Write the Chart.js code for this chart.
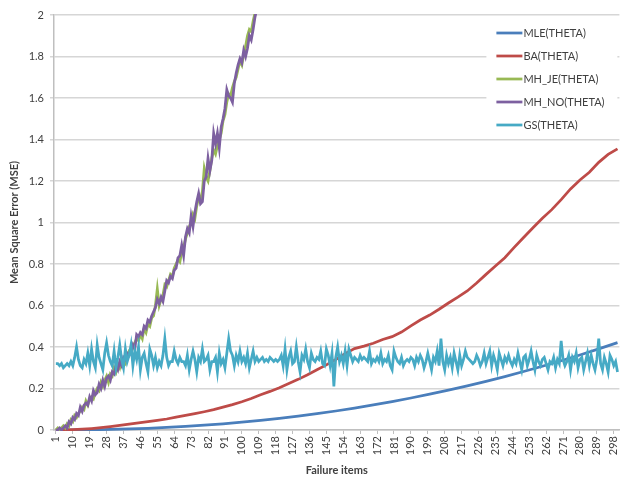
<!DOCTYPE html>
<html><head><meta charset="utf-8">
<script src="https://cdn.jsdelivr.net/npm/chart.js@4.4.0/dist/chart.umd.min.js"></script>
<style>html,body{margin:0;padding:0;background:#fff}#wrap{width:629px;height:477px;position:relative}</style>
</head><body><div id="wrap"><canvas id="c" width="629" height="477"></canvas></div>
<script>
const xTickLabels = [1,10,19,28,37,46,55,64,73,82,91,100,109,118,127,136,145,154,163,172,181,190,199,208,217,226,235,244,253,262,271,280,289,298];
const yTickLabels = [0,0.2,0.4,0.6,0.8,1,1.2,1.4,1.6,1.8,2];
const seriesNames = ['MLE(THETA)','BA(THETA)','MH_JE(THETA)','MH_NO(THETA)','GS(THETA)'];

const mleX = [1,10,20,30,40,50,60,70,80,90,100,110,120,130,140,150,160,170,180,190,200,210,220,230,240,250,260,270,280,290,300];
const mleY = [0,0.0002,0.0011,0.0027,0.005,0.0082,0.0122,0.0171,0.023,0.0298,0.0376,0.0463,0.056,0.0669,0.0787,0.0916,0.1056,0.1207,0.1368,0.1541,0.1725,0.192,0.2127,0.2347,0.2576,0.2819,0.3073,0.3338,0.3616,0.3907,0.4209];

const baX = [1,5,10,15,20,25,30,35,40,45,50,55,60,65,70,75,80,85,90,95,100,105,110,115,120,125,130,135,140,145,150,155,160,165,170,175,180,185,190,195,200,205,210,215,220,225,230,235,240,245,250,255,260,265,270,275,280,285,290,295,300];
const baY = [0,0.001,0.002,0.004,0.007,0.011,0.016,0.022,0.028,0.034,0.040,0.046,0.053,0.062,0.070,0.079,0.088,0.098,0.110,0.122,0.136,0.152,0.170,0.186,0.204,0.224,0.244,0.266,0.290,0.314,0.340,0.368,0.392,0.404,0.418,0.436,0.450,0.472,0.502,0.530,0.554,0.582,0.612,0.640,0.670,0.708,0.750,0.790,0.830,0.880,0.928,0.975,1.020,1.062,1.110,1.162,1.205,1.242,1.290,1.328,1.355];

// values for categories 1, 2, 3, ... (series leave the plot above 2)
const mhJe = [0.00,0.01,0.00,0.01,0.02,0.01,0.03,0.02,0.05,0.04,
 0.07,0.06,0.08,0.09,0.11,0.10,0.14,0.12,0.15,0.16,
 0.15,0.18,0.20,0.19,0.23,0.21,0.24,0.26,0.23,0.27,
 0.26,0.30,0.28,0.32,0.30,0.34,0.33,0.32,0.36,0.38,
 0.37,0.40,0.42,0.44,0.43,0.46,0.44,0.49,0.47,0.51,
 0.50,0.54,0.55,0.60,0.68,0.60,0.63,0.65,0.70,0.69,
 0.72,0.75,0.74,0.78,0.80,0.82,0.81,0.86,0.88,0.92,
 0.95,0.98,1.00,1.04,1.02,1.08,1.12,1.11,1.15,1.26,
 1.22,1.20,1.25,1.31,1.35,1.33,1.37,1.40,1.43,1.49,
 1.52,1.58,1.62,1.61,1.65,1.68,1.70,1.74,1.78,1.76,
 1.81,1.85,1.90,1.93,1.92,1.97,2.01,2.05,2.10,2.14];
const mhNo = [0.00,0.00,0.01,0.00,0.01,0.02,0.01,0.04,0.03,0.06,
 0.05,0.08,0.07,0.11,0.09,0.12,0.13,0.12,0.16,0.14,
 0.19,0.17,0.18,0.22,0.20,0.24,0.21,0.25,0.26,0.24,
 0.28,0.27,0.31,0.29,0.33,0.31,0.35,0.34,0.37,0.36,
 0.38,0.41,0.39,0.46,0.45,0.47,0.46,0.50,0.49,0.53,
 0.52,0.55,0.57,0.59,0.63,0.61,0.64,0.62,0.67,0.72,
 0.71,0.74,0.73,0.77,0.78,0.83,0.84,0.89,0.84,0.93,
 0.97,0.95,1.03,0.98,1.05,1.10,1.14,1.09,1.10,1.20,
 1.22,1.31,1.25,1.30,1.43,1.38,1.43,1.36,1.46,1.50,
 1.55,1.64,1.61,1.60,1.58,1.67,1.72,1.76,1.79,1.77,
 1.83,1.80,1.84,1.90,1.88,1.93,1.99,2.03,2.09,2.13];
const gs = [0.32,0.32,0.31,0.32,0.30,0.31,0.32,0.31,0.33,0.31,
 0.35,0.40,0.34,0.31,0.30,0.34,0.32,0.37,0.31,0.39,
 0.33,0.30,0.41,0.35,0.32,0.29,0.37,0.42,0.36,0.33,
 0.31,0.38,0.30,0.35,0.41,0.34,0.30,0.39,0.33,0.36,
 0.41,0.31,0.38,0.34,0.40,0.29,0.35,0.37,0.32,0.28,
 0.39,0.36,0.31,0.35,0.30,0.33,0.31,0.36,0.44,0.35,
 0.31,0.33,0.33,0.38,0.34,0.32,0.35,0.33,0.33,0.31,
 0.36,0.29,0.34,0.38,0.34,0.28,0.35,0.33,0.39,0.33,
 0.34,0.36,0.29,0.33,0.33,0.35,0.28,0.37,0.32,0.34,
 0.30,0.37,0.44,0.38,0.36,0.31,0.36,0.33,0.38,0.33,
 0.35,0.32,0.37,0.30,0.34,0.38,0.33,0.35,0.33,0.34,
 0.35,0.33,0.34,0.33,0.35,0.34,0.33,0.34,0.33,0.34,
 0.36,0.31,0.39,0.29,0.35,0.38,0.32,0.33,0.40,0.33,
 0.28,0.36,0.34,0.39,0.33,0.30,0.37,0.34,0.33,0.35,
 0.34,0.38,0.32,0.31,0.39,0.36,0.31,0.37,0.21,0.35,
 0.40,0.33,0.36,0.32,0.38,0.31,0.39,0.36,0.33,0.35,
 0.34,0.33,0.36,0.34,0.35,0.34,0.33,0.38,0.32,0.34,
 0.33,0.35,0.33,0.37,0.32,0.34,0.33,0.36,0.31,0.29,
 0.38,0.35,0.33,0.32,0.35,0.31,0.33,0.34,0.33,0.35,
 0.34,0.31,0.35,0.33,0.36,0.34,0.30,0.33,0.37,0.33,
 0.29,0.35,0.33,0.38,0.31,0.44,0.33,0.29,0.36,0.32,
 0.35,0.30,0.37,0.33,0.29,0.36,0.31,0.34,0.38,0.35,
 0.34,0.33,0.32,0.33,0.36,0.34,0.31,0.33,0.37,0.32,
 0.35,0.38,0.31,0.36,0.33,0.29,0.37,0.34,0.31,0.35,
 0.33,0.36,0.33,0.31,0.34,0.32,0.37,0.33,0.29,0.35,
 0.36,0.31,0.34,0.38,0.33,0.29,0.36,0.33,0.31,0.34,
 0.35,0.32,0.29,0.33,0.32,0.35,0.30,0.34,0.32,0.43,
 0.34,0.31,0.33,0.36,0.29,0.35,0.33,0.37,0.30,0.34,
 0.35,0.29,0.33,0.37,0.31,0.36,0.32,0.29,0.34,0.44,
 0.32,0.29,0.35,0.32,0.28,0.36,0.34,0.31,0.33,0.28];

const colors = ['#4A7EBB','#BE4B48','#98B954','#7D60A0','#46AAC5'];

const pairs = (xs, ys) => ys.map((v, i) => ({x: xs[i], y: v}));
const seq = ys => ys.map((v, i) => ({x: i + 1, y: v}));
const seriesData = [pairs(mleX, mleY), pairs(baX, baY), seq(mhJe), seq(mhNo), seq(gs)];
const drawOrder = [5, 4, 3, 2, 1];

const FONT = 'Lato, "Liberation Sans", sans-serif';
const textColor = '#404040';

const legendPlugin = {
  id: 'insideLegend',
  afterDatasetsDraw(chart) {
    const ctx = chart.ctx, a = chart.chartArea;
    const x0 = a.right - 133, y0 = a.top + 4, w = 131, h = 118;
    ctx.save();
    ctx.fillStyle = '#ffffff';
    ctx.fillRect(x0, y0, w, h);
    ctx.font = '11px ' + FONT;
    ctx.textBaseline = 'middle';
    ctx.textAlign = 'left';
    chart.data.datasets.forEach((ds, i) => {
      const y = y0 + 14 + i * 23;
      ctx.strokeStyle = ds.borderColor;
      ctx.lineWidth = 2.75;
      ctx.beginPath();
      ctx.moveTo(x0 + 10, y);
      ctx.lineTo(x0 + 36, y);
      ctx.stroke();
      ctx.fillStyle = textColor;
      ctx.fillText(ds.label, x0 + 37, y + 0.5);
    });
    ctx.restore();
  }
};

new Chart(document.getElementById('c'), {
  type: 'line',
  data: {
    datasets: seriesNames.map((name, i) => ({
      label: name,
      data: seriesData[i],
      borderColor: colors[i],
      backgroundColor: colors[i],
      borderWidth: 2.75,
      pointRadius: 0,
      tension: 0,
      fill: false,
      order: drawOrder[i],
      clip: 1
    }))
  },
  options: {
    responsive: false,
    animation: false,
    layout: {padding: {top: 15, right: 4, left: 0, bottom: 0}},
    plugins: {legend: {display: false}, tooltip: {enabled: false}},
    scales: {
      x: {
        type: 'linear', min: 0, max: 301,
        afterBuildTicks: s => { s.ticks = xTickLabels.map(v => ({value: v})); },
        afterFit: s => { s.height = 47; },
        ticks: {autoSkip: false, minRotation: 90, maxRotation: 90, padding: 2,
                font: {family: FONT, size: 11}, color: textColor,
                callback: v => String(v)},
        grid: {drawOnChartArea: false, drawTicks: true, tickLength: 4, color: '#bfbfbf', lineWidth: 1},
        border: {color: '#bfbfbf', width: 1.5},
        title: {display: true, text: 'Failure items', padding: {top: 0, bottom: 0},
                font: {family: FONT, size: 11, weight: 'bold'}, color: textColor}
      },
      y: {
        min: 0, max: 2,
        afterBuildTicks: s => { s.ticks = yTickLabels.map(v => ({value: v})); },
        afterFit: s => { s.width = 54; },
        ticks: {padding: 6, font: {family: FONT, size: 11}, color: textColor,
                callback: v => String(Math.round(v * 10) / 10)},
        grid: {color: '#d6d6d6', lineWidth: 1.5, tickLength: 4},
        border: {color: '#bfbfbf', width: 1.5},
        title: {display: true, text: 'Mean Square Error (MSE)', padding: {top: 8, bottom: 0},
                font: {family: FONT, size: 11, weight: 'bold'}, color: textColor}
      }
    }
  },
  plugins: [legendPlugin]
});
</script>
</body></html>
